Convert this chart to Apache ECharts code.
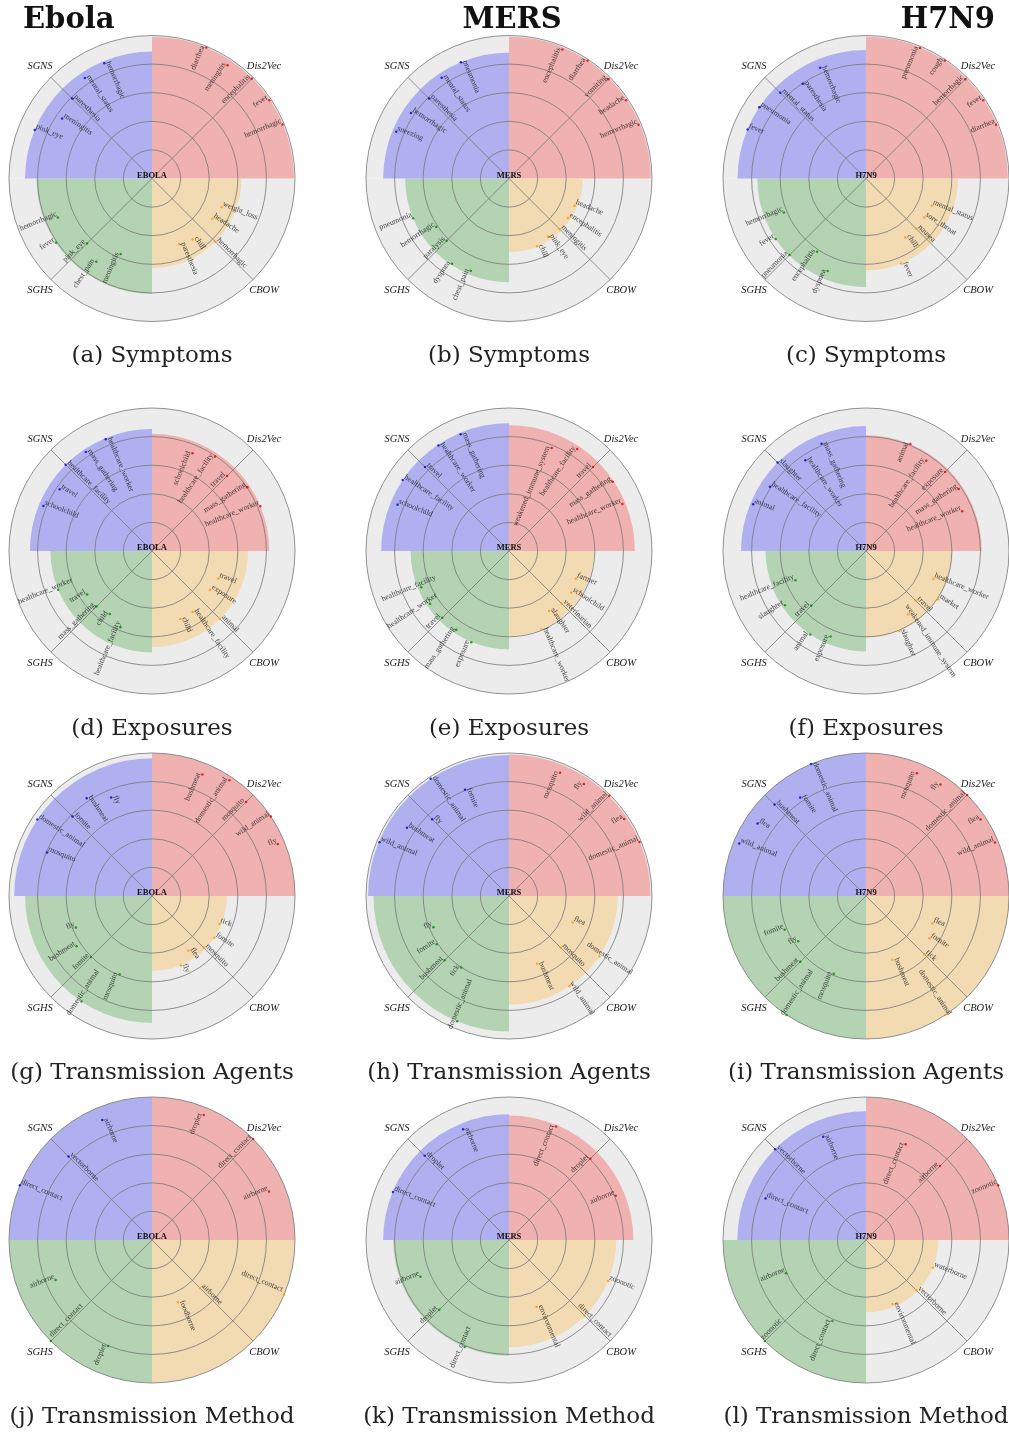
<!DOCTYPE html>
<html>
<head>
<meta charset="utf-8">
<script src="https://cdn.jsdelivr.net/npm/echarts@6.0.0/dist/echarts.min.js"></script>
<style>
    html, body { margin: 0; padding: 0; background: #fff; }
    #chart { width: 1009px; height: 1434px; }
</style>
</head>
<body>
<div id="chart"></div>
<script>
    // quadrant order everywhere: Dis2Vec (top-right), CBOW (bottom-right), SGHS (bottom-left), SGNS (top-left)
    const MODELS = ['Dis2Vec', 'CBOW', 'SGHS', 'SGNS'];
    const QUAD_BASE = [0, 270, 180, 90];          // math angle where each quadrant starts
    const SLOTS5 = [22.5, 33.75, 45, 56.25, 67.5]; // word slots inside a quadrant
    const SLOTS3 = [22.5, 45, 67.5];

    const DISEASES = ['Ebola', 'MERS', 'H7N9'];
    const CENTER_TAGS = ['EBOLA', 'MERS', 'H7N9'];
    const CAPTIONS = [
        '(a) Symptoms', '(b) Symptoms', '(c) Symptoms',
        '(d) Exposures', '(e) Exposures', '(f) Exposures',
        '(g) Transmission Agents', '(h) Transmission Agents', '(i) Transmission Agents',
        '(j) Transmission Method', '(k) Transmission Method', '(l) Transmission Method'
    ];

    // words listed counter-clockwise inside each quadrant, radius = similarity scale 0..5
    // (a) Ebola symptoms
    const symEbolaWords = [
        ['hemorrhagic', 'fever', 'encephalitis', 'meningitis', 'diarrhea'],
        ['paresthesia', 'chill', 'hemorrhagic', 'headache', 'weight_loss'],
        ['hemorrhagic', 'fever', 'pink_eye', 'chest_pain', 'meningitis'],
        ['hemorrhagic', 'mental_status', 'paresthesia', 'meningitis', 'pink_eye']
    ];
    const symEbolaR = [[4.94, 4.93, 4.93, 4.76, 4.96], [2.48, 2.56, 3.13, 2.53, 2.63], [3.56, 4.04, 3.21, 3.50, 2.86], [4.36, 4.23, 3.95, 3.78, 4.44]];
    const symEbolaSector = [4.96, 3.13, 4.04, 4.44];

    // (b) MERS symptoms
    const symMersWords = [
        ['hemorrhagic', 'headache', 'vomiting', 'diarrhea', 'encephalitis'],
        ['chill', 'pink_eye', 'meningitis', 'encephalitis', 'headache'],
        ['pneumonia', 'hemorrhagic', 'paralysis', 'dyspnea', 'chest_pain'],
        ['pneumonia', 'mental_status', 'paresthesia', 'hemorrhagic', 'sneezing']
    ];
    const symMersR = [[4.90, 4.92, 4.91, 4.95, 4.88], [2.56, 2.45, 2.50, 2.48, 2.48], [3.63, 3.06, 3.08, 3.59, 3.49], [4.40, 4.24, 3.96, 4.12, 4.27]];
    const symMersSector = [4.96, 2.58, 3.63, 4.40];

    // (c) H7N9 symptoms
    const symH7n9Words = [
        ['diarrhea', 'fever', 'hemorrhagic', 'cough', 'pneumonia'],
        ['fever', 'chill', 'nausea', 'sore_throat', 'mental_status'],
        ['hemorrhagic', 'fever', 'pneumonia', 'encephalitis', 'dyspnea'],
        ['hemorrhagic', 'paresthesia', 'mental_status', 'pneumonia', 'fever']
    ];
    const symH7n9R = [[4.92, 4.93, 4.91, 4.96, 4.94], [3.22, 2.47, 2.49, 2.45, 2.49], [3.11, 3.80, 3.78, 3.08, 3.50], [4.19, 3.98, 4.24, 4.49, 4.48]];
    const symH7n9Sector = [4.96, 3.22, 3.80, 4.49];

    // (d) Ebola exposures
    const expEbolaWords = [
        ['healthcare_worker', 'mass_gathering', 'travel', 'healthcare_facility', 'schoolchild'],
        ['child', 'healthcare_facility', 'animal', 'exposure', 'travel'],
        ['healthcare_worker', 'travel', 'mass_gathering', 'child', 'healthcare_facility'],
        ['healthcare_worker', 'mass_gathering', 'healthcare_facility', 'travel', 'schoolchild']
    ];
    const expEbolaR = [[4.10, 4.01, 3.71, 3.97, 3.70], [2.57, 2.56, 3.36, 2.45, 2.51], [3.55, 2.73, 2.75, 2.65, 2.89], [4.23, 4.16, 4.27, 3.88, 4.11]];
    const expEbolaSector = [4.10, 3.36, 3.55, 4.27];

    // (e) MERS exposures
    const expMersWords = [
        ['healthcare_worker', 'mass_gathering', 'travel', 'healthcare_facility', 'weakened_immune_system'],
        ['healthcare_worker', 'slaughter', 'veterinarian', 'schoolchild', 'farmer'],
        ['healthcare_facility', 'healthcare_worker', 'travel', 'mass_gathering', 'exposure'],
        ['mass_gathering', 'healthcare_worker', 'travel', 'healthcare_facility', 'schoolchild']
    ];
    const expMersR = [[4.29, 4.36, 4.15, 4.29, 3.90], [2.97, 2.52, 2.60, 2.62, 2.53], [3.32, 3.32, 3.30, 3.31, 3.45], [4.42, 4.44, 4.15, 4.47, 4.22]];
    const expMersSector = [4.40, 2.97, 3.44, 4.47];

    // (f) H7N9 exposures
    const expH7n9Words = [
        ['healthcare_worker', 'mass_gathering', 'exposure', 'healthcare_facility', 'animal'],
        ['slaughter', 'weakened_immune_system', 'travel', 'market', 'healthcare_worker'],
        ['healthcare_facility', 'slaughter', 'travel', 'animal', 'exposure'],
        ['mass_gathering', 'healthcare_worker', 'slaughter', 'healthcare_facility', 'animal']
    ];
    const expH7n9R = [[3.64, 3.90, 3.91, 3.79, 4.05], [3.03, 2.66, 2.46, 3.03, 2.55], [2.67, 3.41, 2.71, 3.51, 3.24], [4.06, 3.82, 4.37, 4.04, 4.27]];
    const expH7n9Sector = [4.05, 3.03, 3.51, 4.37];

    // (g) Ebola transmission agents
    const agtEbolaWords = [
        ['fly', 'wild_animal', 'mosquito', 'domestic_animal', 'bushmeat'],
        ['fly', 'flea', 'mosquito', 'fomite', 'tick'],
        ['fly', 'bushmeat', 'fomite', 'domestic_animal', 'mosquito'],
        ['fly', 'bushmeat', 'fomite', 'domestic_animal', 'mosquito']
    ];
    const agtEbolaR = [[4.76, 5.00, 4.65, 4.87, 4.60], [2.63, 2.29, 2.56, 2.62, 2.55], [2.88, 3.17, 3.02, 4.44, 2.96], [3.73, 4.11, 3.93, 4.82, 3.97]];
    const agtEbolaSector = [5.00, 2.62, 4.44, 4.82];

    // (h) MERS transmission agents
    const agtMersWords = [
        ['domestic_animal', 'flea', 'wild_animal', 'fly', 'mosquito'],
        ['bushmeat', 'wild_animal', 'mosquito', 'domestic_animal', 'flea'],
        ['fly', 'fomite', 'bushmeat', 'tick', 'domestic_animal'],
        ['fomite', 'domestic_animal', 'fly', 'bushmeat', 'wild_animal']
    ];
    const agtMersR = [[4.94, 4.84, 4.96, 4.71, 4.66], [2.56, 3.80, 2.55, 3.80, 2.41], [2.86, 3.04, 3.18, 3.01, 4.74], [4.02, 4.93, 3.80, 4.29, 4.90]];
    const agtMersSector = [4.95, 3.80, 4.74, 4.93];

    // (i) H7N9 transmission agents
    const agtH7n9Words = [
        ['wild_animal', 'flea', 'domestic_animal', 'fly', 'mosquito'],
        ['bushmeat', 'domestic_animal', 'tick', 'fomite', 'flea'],
        ['fomite', 'fly', 'bushmeat', 'domestic_animal', 'mosquito'],
        ['domestic_animal', 'fomite', 'bushmeat', 'flea', 'wild_animal']
    ];
    const agtH7n9R = [[4.88, 4.82, 5.00, 4.69, 4.65], [2.41, 5.00, 2.88, 2.66, 2.51], [3.08, 2.85, 3.25, 5.00, 2.94], [5.00, 4.14, 4.52, 4.56, 4.80]];
    const agtH7n9Sector = [5.00, 5.00, 5.00, 5.00];

    // (j) Ebola transmission method
    const mthEbolaWords = [
        ['airborne', 'direct_contact', 'droplet'],
        ['foodborne', 'airborne', 'direct_contact'],
        ['airborne', 'direct_contact', 'droplet'],
        ['airborne', 'vectorborne', 'direct_contact']
    ];
    const mthEbolaR = [[4.43, 5.00, 4.73], [2.36, 2.37, 5.00], [3.65, 5.00, 4.01], [4.54, 4.13, 5.00]];
    const mthEbolaSector = [5.00, 5.00, 5.00, 5.00];

    // (k) MERS transmission method
    const mthMersWords = [
        ['airborne', 'droplet', 'direct_contact'],
        ['environmental', 'direct_contact', 'zoonotic'],
        ['airborne', 'droplet', 'direct_contact'],
        ['airborne', 'droplet', 'direct_contact']
    ];
    const mthMersR = [[4.04, 4.02, 4.30], [2.53, 3.74, 3.75], [3.35, 3.45, 4.05], [4.19, 4.17, 4.39]];
    const mthMersSector = [4.35, 3.75, 4.05, 4.40];

    // (l) H7N9 transmission method
    const mthH7n9Words = [
        ['zoonotic', 'airborne', 'direct_contact'],
        ['environmental', 'vectorborne', 'waterborne'],
        ['airborne', 'zoonotic', 'direct_contact'],
        ['airborne', 'vectorborne', 'direct_contact']
    ];
    const mthH7n9R = [[5.00, 3.66, 3.62], [2.42, 2.49, 2.53], [3.03, 5.00, 3.07], [3.91, 4.49, 3.80]];
    const mthH7n9Sector = [5.00, 2.53, 5.00, 4.50];

    const PANELS = [
        [symEbolaWords, symEbolaR, symEbolaSector], [symMersWords, symMersR, symMersSector], [symH7n9Words, symH7n9R, symH7n9Sector],
        [expEbolaWords, expEbolaR, expEbolaSector], [expMersWords, expMersR, expMersSector], [expH7n9Words, expH7n9R, expH7n9Sector],
        [agtEbolaWords, agtEbolaR, agtEbolaSector], [agtMersWords, agtMersR, agtMersSector], [agtH7n9Words, agtH7n9R, agtH7n9Sector],
        [mthEbolaWords, mthEbolaR, mthEbolaSector], [mthMersWords, mthMersR, mthMersSector], [mthH7n9Words, mthH7n9R, mthH7n9Sector]
    ];

    // look
    const FILL = ['#f0b1b1', '#f2dab3', '#b3d3b3', '#b0b0f0'];
    const DOT = ['#dd0000', '#ff9900', '#008800', '#0000cc'];
    const BACK = '#ececec';
    const GRID = '#777777';
    const R = 143;
    const COL_X = [152, 509, 866];
    const ROW_Y = [178.5, 551, 896, 1240];
    const CAPTION_Y = [356, 729, 1073, 1417];
    const SERIF = '"Liberation Serif", "DejaVu Serif", serif';
    const WORD_PX = 3.5;   // rough advance of one 7.8px character

    // radial word labels: top half lies inward from the dot, bottom half outward
    // (bottom ones that would run past the rim are slid back inside)
    function wordLabel(theta, r, word) {
        const len = word.length * WORD_PX / (R / 5);
        if (theta < 90) return {rotate: theta, align: 'right', r: r};
        if (theta < 180) return {rotate: theta - 180, align: 'left', r: r};
        const r0 = Math.min(r, 5.05 - len);
        if (theta < 270) return {rotate: theta - 180, align: 'right', r: r0};
        return {rotate: theta - 360, align: 'left', r: r0};
    }

    const polar = [], angleAxis = [], radiusAxis = [], series = [], graphic = [];
    const hidden = {axisLine: {show: false}, axisTick: {show: false}, axisLabel: {show: false}};

    PANELS.forEach(function (panel, k) {
        const words = panel[0], radii = panel[1], sector = panel[2];
        const cx = COL_X[k % 3], cy = ROW_Y[Math.floor(k / 3)];
        const pa = 2 * k, pb = 2 * k + 1;

        // polar pa: grey disc + coloured quadrants
        polar.push({center: [cx, cy], radius: R});
        angleAxis.push(Object.assign({polarIndex: pa, type: 'category', data: MODELS, startAngle: 90,
            splitLine: {show: false}}, hidden));
        radiusAxis.push(Object.assign({polarIndex: pa, min: 0, max: 5, splitLine: {show: false}}, hidden));

        // polar pb: rings, diagonals and the words
        polar.push({center: [cx, cy], radius: R});
        angleAxis.push(Object.assign({polarIndex: pb, type: 'value', min: 0, max: 360, interval: 45,
            startAngle: 0, clockwise: false, z: 3,
            splitLine: {show: true, lineStyle: {color: ['rgba(0,0,0,0)', GRID], width: 0.8}}}, hidden));
        radiusAxis.push(Object.assign({polarIndex: pb, min: 0, max: 5, interval: 1, z: 3,
            splitLine: {show: true, lineStyle: {color: GRID, width: 0.8}}}, hidden));

        series.push({
            type: 'bar', coordinateSystem: 'polar', polarIndex: pa, silent: true, z: 1,
            data: [5, 5, 5, 5], barCategoryGap: '0%', itemStyle: {color: BACK}
        });
        series.push({
            type: 'bar', coordinateSystem: 'polar', polarIndex: pa, silent: true, z: 2,
            barGap: '-100%', barCategoryGap: '0%',
            data: sector.map(function (v, q) { return {value: v, itemStyle: {color: FILL[q]}}; })
        });

        const dots = [], tags = [];
        words.forEach(function (list, q) {
            const slots = list.length === 3 ? SLOTS3 : SLOTS5;
            list.forEach(function (w, i) {
                const theta = QUAD_BASE[q] + slots[i];
                const lab = wordLabel(theta, radii[q][i], w);
                dots.push({value: [radii[q][i], theta], itemStyle: {color: DOT[q]}});
                tags.push({name: w, value: [lab.r, theta], label: {rotate: lab.rotate, align: lab.align}});
            });
        });
        series.push({
            type: 'scatter', coordinateSystem: 'polar', polarIndex: pb, z: 4, silent: true,
            symbol: 'circle', symbolSize: 2.5, data: dots
        });
        series.push({
            type: 'scatter', coordinateSystem: 'polar', polarIndex: pb, z: 5, silent: true,
            symbolSize: 0, data: tags,
            label: {
                show: true, position: 'inside', formatter: '{b}', verticalAlign: 'bottom',
                color: '#111', fontFamily: SERIF, fontSize: 7.8, textBorderWidth: 0
            }
        });

        // centre tag, corner model names, caption
        graphic.push({type: 'text', x: cx, y: cy - 3, z: 100, silent: true,
            style: {text: CENTER_TAGS[k % 3], font: 'bold 8.5px ' + SERIF, fill: '#111',
                align: 'center', verticalAlign: 'middle', textAlign: 'center', textVerticalAlign: 'middle'}});
        const corner = [[112, -112], [112, 112], [-112, 112], [-112, -112]];
        MODELS.forEach(function (m, q) {
            graphic.push({type: 'text', x: cx + corner[q][0], y: cy + corner[q][1], z: 100, silent: true,
                style: {text: m, font: 'italic 10.5px ' + SERIF, fill: '#222',
                    align: 'center', verticalAlign: 'middle', textAlign: 'center', textVerticalAlign: 'middle'}});
        });
        graphic.push({type: 'text', x: cx, y: CAPTION_Y[Math.floor(k / 3)], z: 100, silent: true,
            style: {text: CAPTIONS[k], font: '23px "DejaVu Serif", serif', fill: '#222',
                align: 'center', verticalAlign: 'middle', textAlign: 'center', textVerticalAlign: 'middle'}});
    });

    // column headings
    const HEAD_X = [23, 512, 995];
    const HEAD_ALIGN = ['left', 'center', 'right'];
    DISEASES.forEach(function (d, c) {
        graphic.push({type: 'text', x: HEAD_X[c], y: 20, z: 100, silent: true,
            style: {text: d, font: 'bold 29px "DejaVu Serif", serif', fill: '#111',
                align: HEAD_ALIGN[c], verticalAlign: 'middle', textAlign: HEAD_ALIGN[c], textVerticalAlign: 'middle'}});
    });

    const chart = echarts.init(document.getElementById('chart'));
    chart.setOption({
        backgroundColor: '#fff',
        animation: false,
        polar: polar,
        angleAxis: angleAxis,
        radiusAxis: radiusAxis,
        series: series,
        graphic: graphic
    });
</script>
</body>
</html>
